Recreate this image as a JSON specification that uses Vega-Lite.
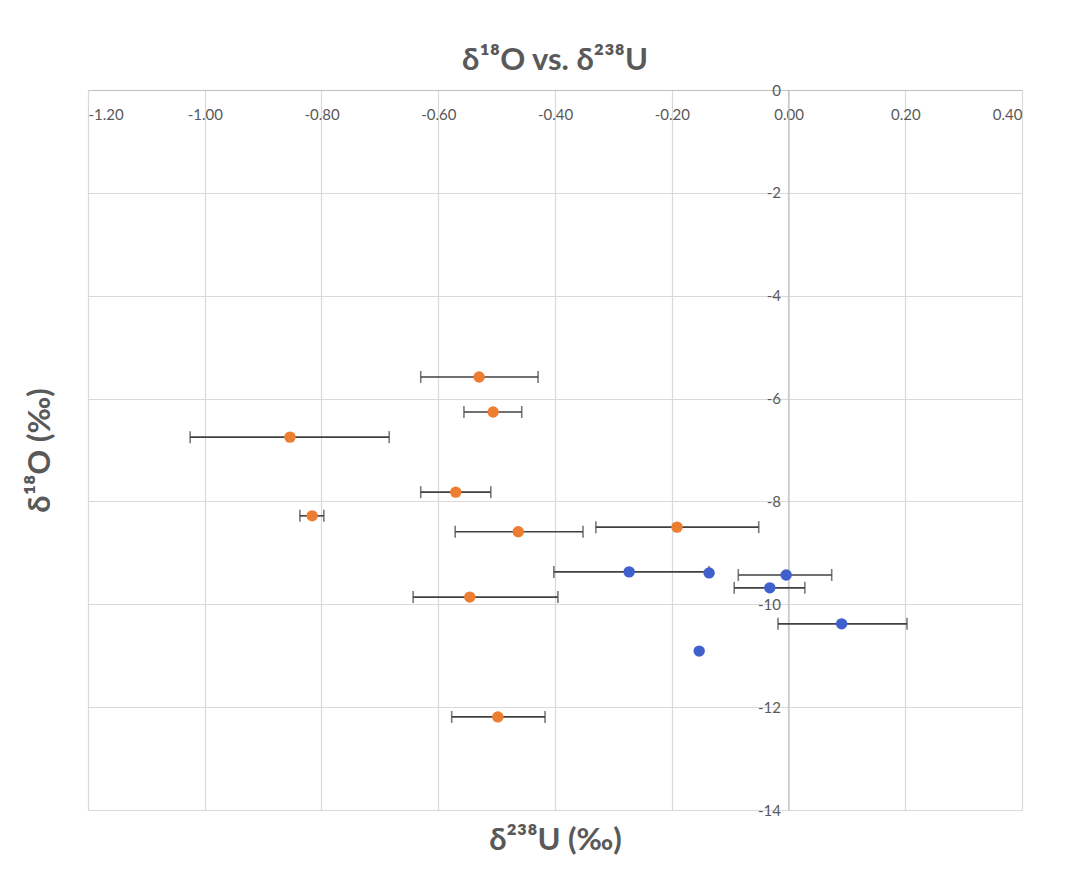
{
  "$schema": "https://vega.github.io/schema/vega-lite/v6.json",
  "width": 934,
  "height": 720,
  "autosize": {"type": "none"},
  "padding": {"left": 88, "top": 90, "right": 53, "bottom": 76},
  "background": "white",
  "config": {"view": {"stroke": null}, "font": "Lato"},
  "title": {"text": "δ¹⁸O vs. δ²³⁸U", "fontSize": 31, "fontWeight": "bold", "color": "#595959", "anchor": "middle", "offset": 6, "font": "Lato"},
  "data": {
    "values": [
      {"series": "Series A", "u": -0.530, "o": -5.58, "lo": -0.630, "hi": -0.429},
      {"series": "Series A", "u": -0.506, "o": -6.26, "lo": -0.556, "hi": -0.457},
      {"series": "Series A", "u": -0.854, "o": -6.75, "lo": -1.025, "hi": -0.684},
      {"series": "Series A", "u": -0.570, "o": -7.82, "lo": -0.630, "hi": -0.510},
      {"series": "Series A", "u": -0.816, "o": -8.28, "lo": -0.837, "hi": -0.796},
      {"series": "Series A", "u": -0.463, "o": -8.59, "lo": -0.571, "hi": -0.352},
      {"series": "Series A", "u": -0.191, "o": -8.50, "lo": -0.330, "hi": -0.051},
      {"series": "Series A", "u": -0.546, "o": -9.86, "lo": -0.643, "hi": -0.395},
      {"series": "Series A", "u": -0.498, "o": -12.19, "lo": -0.577, "hi": -0.417},
      {"series": "Series B", "u": -0.273, "o": -9.37, "lo": -0.402, "hi": -0.136},
      {"series": "Series B", "u": -0.136, "o": -9.39, "lo": null, "hi": null},
      {"series": "Series B", "u": -0.004, "o": -9.43, "lo": -0.086, "hi": 0.074},
      {"series": "Series B", "u": -0.032, "o": -9.68, "lo": -0.093, "hi": 0.028},
      {"series": "Series B", "u": 0.091, "o": -10.38, "lo": -0.018, "hi": 0.203},
      {"series": "Series B", "u": -0.153, "o": -10.91, "lo": null, "hi": null}
    ]
  },
  "encoding": {
    "y": {
      "field": "o", "type": "quantitative",
      "scale": {"domain": [-14, 0], "nice": false, "zero": false},
      "axis": {
        "title": "δ¹⁸O (‰)", "titleFontSize": 31, "titleFontWeight": "bold", "titleColor": "#595959", "titleFont": "Lato",
        "titleX": -748, "titleY": 360, "titleAngle": -90, "titleAlign": "center", "titleBaseline": "middle",
        "offset": -700.5, "values": [0, -2, -4, -6, -8, -10, -12, -14],
        "labelExpr": "replace(format(datum.value, 'd'), '\u2212', '-')",
        "labelFontSize": 15, "labelColor": "#595959", "labelPadding": 8, "ticks": false,
        "domainColor": "#bfbfbf", "domainWidth": 1.2,
        "grid": true, "gridColor": "#d9d9d9", "gridWidth": 1.2
      }
    }
  },
  "layer": [
    {
      "mark": {"type": "rule", "color": "#404040", "strokeWidth": 1.6},
      "transform": [{"filter": "datum.lo != null"}],
      "encoding": {
        "x": {
          "field": "lo", "type": "quantitative",
          "scale": {"domain": [-1.2, 0.4], "nice": false, "zero": false},
          "axis": {
            "title": "δ²³⁸U (‰)", "titleFontSize": 31, "titleFontWeight": "bold", "titleColor": "#595959", "titleFont": "Lato",
            "titleY": 750, "titleX": 467, "titleBaseline": "middle", "titleAlign": "center",
            "orient": "bottom", "offset": -720, "values": [-1.2, -1.0, -0.8, -0.6, -0.4, -0.2, 0, 0.2, 0.4],
            "labelExpr": "replace(format(datum.value, '.2f'), '\u2212', '-')",
            "labelFontSize": 15, "labelColor": "#595959", "labelPadding": 17, "ticks": false,
            "domainColor": "#bfbfbf", "domainWidth": 1.2,
            "grid": true, "gridColor": "#d9d9d9", "gridWidth": 1.2
          }
        },
        "x2": {"field": "hi"}
      }
    },
    {
      "mark": {"type": "tick", "orient": "vertical", "color": "#404040", "thickness": 1.6, "size": 12},
      "transform": [{"filter": "datum.lo != null"}],
      "encoding": {"x": {"field": "lo", "type": "quantitative"}}
    },
    {
      "mark": {"type": "tick", "orient": "vertical", "color": "#404040", "thickness": 1.6, "size": 12},
      "transform": [{"filter": "datum.hi != null"}],
      "encoding": {"x": {"field": "hi", "type": "quantitative"}}
    },
    {
      "mark": {"type": "circle", "size": 130, "opacity": 1},
      "encoding": {
        "x": {"field": "u", "type": "quantitative"},
        "color": {"field": "series", "type": "nominal", "scale": {"domain": ["Series A", "Series B"], "range": ["#ED7D31", "#4060CC"]}, "legend": null}
      }
    }
  ]
}
